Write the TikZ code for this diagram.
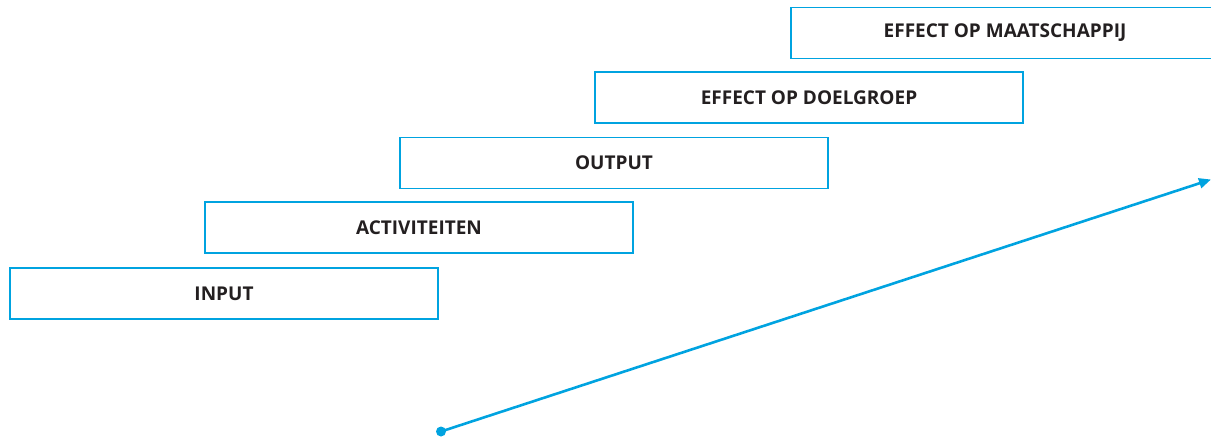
\documentclass[tikz,border=0pt]{standalone}
\usepackage{fontspec}
\setmainfont{Open Sans}
\usetikzlibrary{arrows.meta}
\definecolor{cyanline}{HTML}{00A3E0}
\definecolor{txt}{HTML}{231F20}
\tikzset{
  stepbox/.style={draw=cyanline, line width=1.4pt, minimum width=428pt, minimum height=51pt,
    inner sep=0pt, text=txt, font=\bfseries\fontsize{19}{21}\selectfont},
  trend/.style={draw=cyanline, line width=2.6pt, -{Triangle[length=12pt,width=10pt]}},
}
\begin{document}
\begin{tikzpicture}[x=1pt,y=-1pt]
\useasboundingbox (0,0) rectangle (1211,437);
\clip (0,0) rectangle (1211,437);
\node[stepbox] (input) at (224,293.5) {INPUT};
\node[stepbox] (act) at (419,227.5) {ACTIVITEITEN};
\node[stepbox] (output) at (614,163) {OUTPUT};
\node[stepbox] (doel) at (809,97.5) {EFFECT OP DOELGROEP};
\node[stepbox] (maat) at (1005,33) {EFFECT OP MAATSCHAPPIJ};
\coordinate (start) at (441,431.5);
\coordinate (end) at (1211,179.5);
\fill[cyanline] (start) circle (5pt);
\draw[trend] (start) -- (end);
\end{tikzpicture}
\end{document}
